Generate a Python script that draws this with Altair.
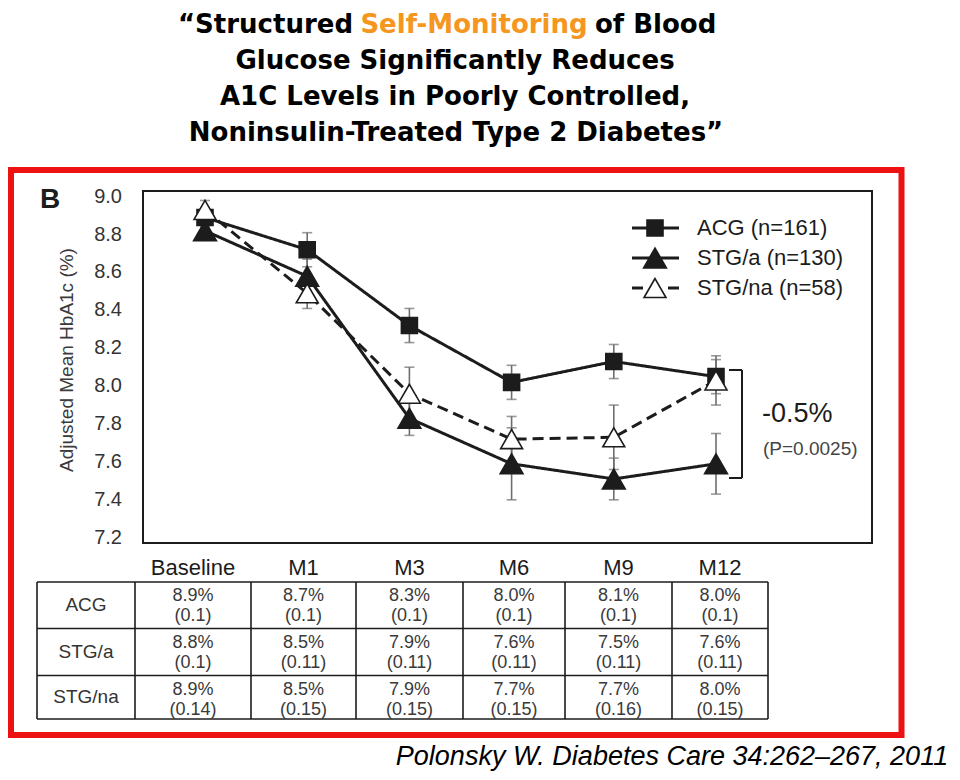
import altair as alt
import pandas as pd

# ---------------- data ----------------
timepoints = ["Baseline", "M1", "M3", "M6", "M9", "M12"]
series_names = ["ACG", "STG/a", "STG/na"]
legend_labels = ["ACG (n=161)", "STG/a (n=130)", "STG/na (n=58)"]

acg_mean = [8.89, 8.72, 8.32, 8.02, 8.13, 8.05]
acg_err = [0.05, 0.09, 0.09, 0.09, 0.09, 0.09]
stga_mean = [8.82, 8.58, 7.83, 7.59, 7.51, 7.59]
stga_err = [0.05, 0.09, 0.09, 0.19, 0.11, 0.16]
stgna_mean = [8.93, 8.49, 7.96, 7.72, 7.73, 8.03]
stgna_err = [0.05, 0.08, 0.14, 0.12, 0.17, 0.13]

acg_table = [8.9, 8.7, 8.3, 8.0, 8.1, 8.0]
acg_se = ["0.1", "0.1", "0.1", "0.1", "0.1", "0.1"]
stga_table = [8.8, 8.5, 7.9, 7.6, 7.5, 7.6]
stga_se = ["0.1", "0.11", "0.11", "0.11", "0.11", "0.11"]
stgna_table = [8.9, 8.5, 7.9, 7.7, 7.7, 8.0]
stgna_se = ["0.14", "0.15", "0.15", "0.15", "0.16", "0.15"]

y_ticks = [7.2, 7.4, 7.6, 7.8, 8.0, 8.2, 8.4, 8.6, 8.8, 9.0]
y_title = "Adjusted Mean HbA1c (%)"
panel_label = "B"
diff_label = "-0.5%"
p_label = "(P=0.0025)"
title_l1 = ["\u201cStructured", "Self-Monitoring", "of Blood"]
title_rest = ["Glucose Significantly Reduces",
              "A1C Levels in Poorly Controlled,",
              "Noninsulin-Treated Type 2 Diabetes\u201d"]
citation = "Polonsky W. Diabetes Care 34:262\u2013267, 2011"

# ---------------- layout (page pixels) ----------------
MARGIN = 8
PL, PT = 143, 191          # plot frame top-left on page
PW, PH = 729, 352          # plot frame size
TOTAL_W, TOTAL_H = 944, 764


def X(px):
    return px - PL


def Y(py):
    return py - PT


INK = "#1c1c1c"
GRAY_TXT = "#333333"
ERR = "#6e6e6e"
FONT = "Liberation Sans"

# ---------------- plot data ----------------
rows = []
for name, means, errs in [("ACG", acg_mean, acg_err),
                          ("STG/a", stga_mean, stga_err),
                          ("STG/na", stgna_mean, stgna_err)]:
    for i, (t, m, e) in enumerate(zip(timepoints, means, errs)):
        rows.append(dict(series=name, time=t, idx=i, mean=m, lo=m - e, hi=m + e))
df = pd.DataFrame(rows)

xenc = alt.X("time:N", sort=timepoints, axis=None,
             scale=alt.Scale(type="point", domain=timepoints,
                             range=[X(205), X(716)], padding=0))
yscale = alt.Scale(domain=[7.172, 9.03], nice=False, zero=False)

layers = []

# red frame
layers.append(
    alt.Chart(pd.DataFrame({"a": [0]})).mark_rect(fillOpacity=0, stroke="#ee1111", strokeWidth=6)
    .encode(x=alt.value(X(11)), x2=alt.value(X(901.5)), y=alt.value(Y(170)), y2=alt.value(Y(735)))
)

# rules: table grid + bracket
col_edges = [37, 135, 251, 356, 463, 565, 672, 768]
row_edges = [582, 628.5, 675.5, 719]
rule_rows = []
for ry in row_edges:
    rule_rows.append((col_edges[0], col_edges[-1], ry, ry, 1.6))
for cx in col_edges:
    rule_rows.append((cx, cx, row_edges[0], row_edges[-1], 1.6))
rule_rows += [(729, 742, 370, 370, 2), (742, 742, 370, 478, 2), (729, 742, 478, 478, 2)]
rdf = pd.DataFrame(rule_rows, columns=["x", "x2", "y", "y2", "w"])
rdf["x"] = rdf["x"] - PL
rdf["x2"] = rdf["x2"] - PL
rdf["y"] = rdf["y"] - PT
rdf["y2"] = rdf["y2"] - PT
layers.append(
    alt.Chart(rdf).mark_rule(color=INK).encode(
        x=alt.X("x:Q", scale=None, axis=None), x2="x2:Q",
        y=alt.Y("y:Q", scale=None, axis=None), y2="y2:Q",
        strokeWidth=alt.StrokeWidth("w:Q", scale=None, legend=None))
)


def text_layer(items, **kw):
    d = pd.DataFrame(items, columns=["x", "y", "t"])
    d["x"] = d["x"] - PL
    d["y"] = d["y"] - PT
    return alt.Chart(d).mark_text(**kw).encode(
        x=alt.X("x:Q", scale=None, axis=None),
        y=alt.Y("y:Q", scale=None, axis=None),
        text="t:N")


# title
TFONT = dict(font="DejaVu Sans", fontWeight="bold", fontSize=26, baseline="alphabetic")
layers.append(text_layer([(353, 33, title_l1[0])], align="right", color="#000000", **TFONT))
layers.append(text_layer([(474, 33, title_l1[1])], align="center", color="#F5961E", **TFONT))
layers.append(text_layer([(595, 33, title_l1[2])], align="left", color="#000000", **TFONT))
layers.append(text_layer([(455, 69, title_rest[0]), (455, 105, title_rest[1]),
                          (456, 141, title_rest[2])], align="center", color="#000000", **TFONT))

# panel label and axis title
layers.append(text_layer([(40, 208, panel_label)], align="left", baseline="alphabetic",
                         font=FONT, fontWeight="bold", fontSize=28, color=INK))
layers.append(text_layer([(67, 360, y_title)], align="center", baseline="middle", angle=270,
                         font=FONT, fontSize=19, color="#3a3a3a"))

# y tick labels (placed through the data scale)
tick_df = pd.DataFrame({"v": y_ticks, "lab": [f"{v:.1f}" for v in y_ticks]})
layers.append(
    alt.Chart(tick_df).mark_text(align="right", baseline="middle", font=FONT, fontSize=20,
                                 color=GRAY_TXT).encode(
        x=alt.value(X(122)), y=alt.Y("v:Q", scale=yscale, axis=None), text="lab:N")
)

# table texts
col_centers = [(col_edges[i] + col_edges[i + 1]) / 2 for i in range(len(col_edges) - 1)]
layers.append(text_layer([(col_centers[i + 1], 568, t) for i, t in enumerate(timepoints)],
                         align="center", baseline="middle", font=FONT, fontSize=22, color=INK))
row_mid = [(row_edges[i] + row_edges[i + 1]) / 2 for i in range(3)]
layers.append(text_layer([(col_centers[0], row_mid[i], s) for i, s in enumerate(series_names)],
                         align="center", baseline="middle", font=FONT, fontSize=19, color=GRAY_TXT))
cells = []
for r, (vals, ses) in enumerate([(acg_table, acg_se), (stga_table, stga_se), (stgna_table, stgna_se)]):
    for c in range(6):
        cells.append((col_centers[c + 1], row_edges[r] + 14, f"{vals[c]:.1f}%"))
        cells.append((col_centers[c + 1], row_edges[r] + 34, f"({ses[c]})"))
layers.append(text_layer(cells, align="center", baseline="middle", font=FONT, fontSize=18,
                         color="#3a3a3a"))

# citation
layers.append(text_layer([(672, 765, citation)], align="center", baseline="alphabetic",
                         font=FONT, fontStyle="italic", fontSize=27, color="#000000"))

# bracket texts
layers.append(text_layer([(762, 414, diff_label)], align="left", baseline="middle",
                         font=FONT, fontSize=27, color=INK))
layers.append(text_layer([(763, 449, p_label)], align="left", baseline="middle",
                         font=FONT, fontSize=19, color="#444444"))

# series lines
dash_map = {"ACG": [1, 0], "STG/a": [1, 0], "STG/na": [11, 6]}
for name in series_names:
    sub = df[df.series == name]
    layers.append(
        alt.Chart(sub).mark_line(color=INK, strokeWidth=3, strokeDash=dash_map[name]).encode(
            x=xenc,
            y=alt.Y("mean:Q", scale=yscale, axis=None),
            order=alt.Order("idx:Q"))
    )

# error bars
layers.append(alt.Chart(df).mark_rule(color=ERR, strokeWidth=1.6).encode(
    x=xenc, y=alt.Y("lo:Q", scale=yscale, axis=None), y2="hi:Q"))
layers.append(alt.Chart(df).mark_tick(color=ERR, thickness=1.6, size=10).encode(
    x=xenc, y=alt.Y("lo:Q", scale=yscale, axis=None)))
layers.append(alt.Chart(df).mark_tick(color=ERR, thickness=1.6, size=10).encode(
    x=xenc, y=alt.Y("hi:Q", scale=yscale, axis=None)))

# markers
marker_style = {
    "ACG": dict(shape="square", size=256, fill=INK),
    "STG/a": dict(shape="triangle-up", size=520, fill=INK),
    "STG/na": dict(shape="triangle-up", size=480, fill="#ffffff"),
}
for name in series_names:
    sub = df[df.series == name]
    st = marker_style[name]
    layers.append(
        alt.Chart(sub).mark_point(filled=True, opacity=1, stroke=INK, strokeWidth=1.6,
                                  shape=st["shape"], size=st["size"], fill=st["fill"]).encode(
            x=xenc, y=alt.Y("mean:Q", scale=yscale, axis=None))
    )

# legend
one = pd.DataFrame({"a": [0]})
for i, (name, lab) in enumerate(zip(series_names, legend_labels)):
    ly = 228 + 30 * i
    dash = [11, 25] if name == "STG/na" else [1, 0]
    layers.append(alt.Chart(one).mark_rule(color=INK, strokeWidth=3, strokeDash=dash).encode(
        x=alt.value(X(632)), x2=alt.value(X(679)), y=alt.value(Y(ly)), y2=alt.value(Y(ly))))
    st = marker_style[name]
    layers.append(alt.Chart(one).mark_point(filled=True, opacity=1, stroke=INK, strokeWidth=1.6,
                                            shape=st["shape"], size=st["size"], fill=st["fill"]).encode(
        x=alt.value(X(655)), y=alt.value(Y(ly))))
    layers.append(text_layer([(697, ly, lab)], align="left", baseline="middle",
                             font=FONT, fontSize=22, color=INK))

chart = alt.layer(*layers).properties(
    width=PW, height=PH,
    padding={"left": PL - MARGIN, "top": PT - MARGIN,
             "right": TOTAL_W - (PL - MARGIN) - PW,
             "bottom": TOTAL_H - (PT - MARGIN) - PH},
    autosize=alt.AutoSizeParams(type="none"),
    background="white",
).configure_view(stroke=INK, strokeWidth=2)

chart.save("out.html", embed_options={"renderer": "svg", "actions": False})
